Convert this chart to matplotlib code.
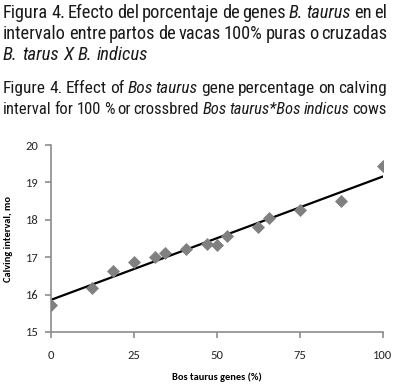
import numpy as np
import matplotlib
matplotlib.use('Agg')
import matplotlib.pyplot as plt

# data
genes = [0, 12.5, 18.75, 25, 31.25, 34.4, 40.6, 46.9, 50, 53.1, 62.5, 65.6, 75, 87.5, 100]
interval = [15.72, 16.17, 16.64, 16.87, 17.0, 17.12, 17.23, 17.34, 17.33, 17.58, 17.8, 18.04, 18.27, 18.51, 19.45]
xticks = [0, 25, 50, 75, 100]
yticks = [15, 16, 17, 18, 19, 20]

caption = [
    [('Figura 4. Efecto del porcentaje de genes', 'normal'), ('B. taurus', 'italic'), ('en el', 'normal')],
    [('intervalo entre partos de vacas 100% puras o cruzadas', 'normal')],
    [('B. tarus X B. indicus', 'italic')],
    [('Figure 4. Effect of', 'normal'), ('Bos taurus', 'italic'), ('gene percentage on calving', 'normal')],
    [('interval for 100 % or crossbred', 'normal'), ('Bos taurus*Bos indicus', 'italic'), ('cows', 'normal')],
]
justify = [True, True, False, True, True]
baselines = [18, 39, 60, 93, 114]

W, H = 395, 385
fig = plt.figure(figsize=(W / 100, H / 100), dpi=100)
capfont = ['Roboto Condensed', 'Liberation Sans']
lblfont = ['Carlito', 'Open Sans']

renderer = fig.canvas.get_renderer()
left, right = 3, 387
for segs, just, base in zip(caption, justify, baselines):
    words = []
    for txt, style in segs:
        for w in txt.split(' '):
            words.append((w, style))
    size = 13.5
    while True:
        arts = [fig.text(0, 1 - base / H, w, fontsize=size, family=capfont, style=st,
                         va='baseline', ha='left', color='#1a1a1a') for w, st in words]
        widths = [a.get_window_extent(renderer).width for a in arts]
        gap = (right - left - sum(widths)) / (len(words) - 1)
        if gap >= 2.5 or not just:
            break
        for a in arts:
            a.remove()
        size -= 0.25
    if not just:
        gap = 4.5
    x = left
    for a, wd in zip(arts, widths):
        a.set_x(x / W)
        x += wd + gap

ax = fig.add_axes([51 / W, 1 - 332 / H, (382.7 - 51) / W, (332 - 145) / H])
ax.scatter(genes, interval, marker='D', s=44, color='#808080', zorder=3, linewidths=0)
slope, icpt = np.polyfit(genes, interval, 1)
xs = np.array([0, 100])
ax.plot(xs, icpt + slope * xs, color='black', lw=1.6, zorder=2)

ax.set_xlim(0, 100)
ax.set_ylim(15, 20)
ax.set_xticks(xticks)
ax.set_yticks(yticks)
for s in ['top', 'right']:
    ax.spines[s].set_visible(False)
for s in ['left', 'bottom']:
    ax.spines[s].set_color('#8c8c8c')
    ax.spines[s].set_linewidth(1.2)
ax.tick_params(axis='x', length=4, width=1.2, color='#8c8c8c', pad=9, labelsize=9, labelcolor='#262626')
ax.tick_params(axis='y', length=4, width=1.2, color='#8c8c8c', pad=5, labelsize=9, labelcolor='#262626')
for lab in ax.get_xticklabels() + ax.get_yticklabels():
    lab.set_family(lblfont)
ax.set_xlabel('Bos taurus genes (%)', fontsize=7.5, fontweight='bold', family=lblfont, labelpad=8)
ax.set_ylabel('Calving interval, mo', fontsize=7.5, fontweight='bold', family=lblfont, labelpad=9)

fig.savefig('out.png', dpi=100)
